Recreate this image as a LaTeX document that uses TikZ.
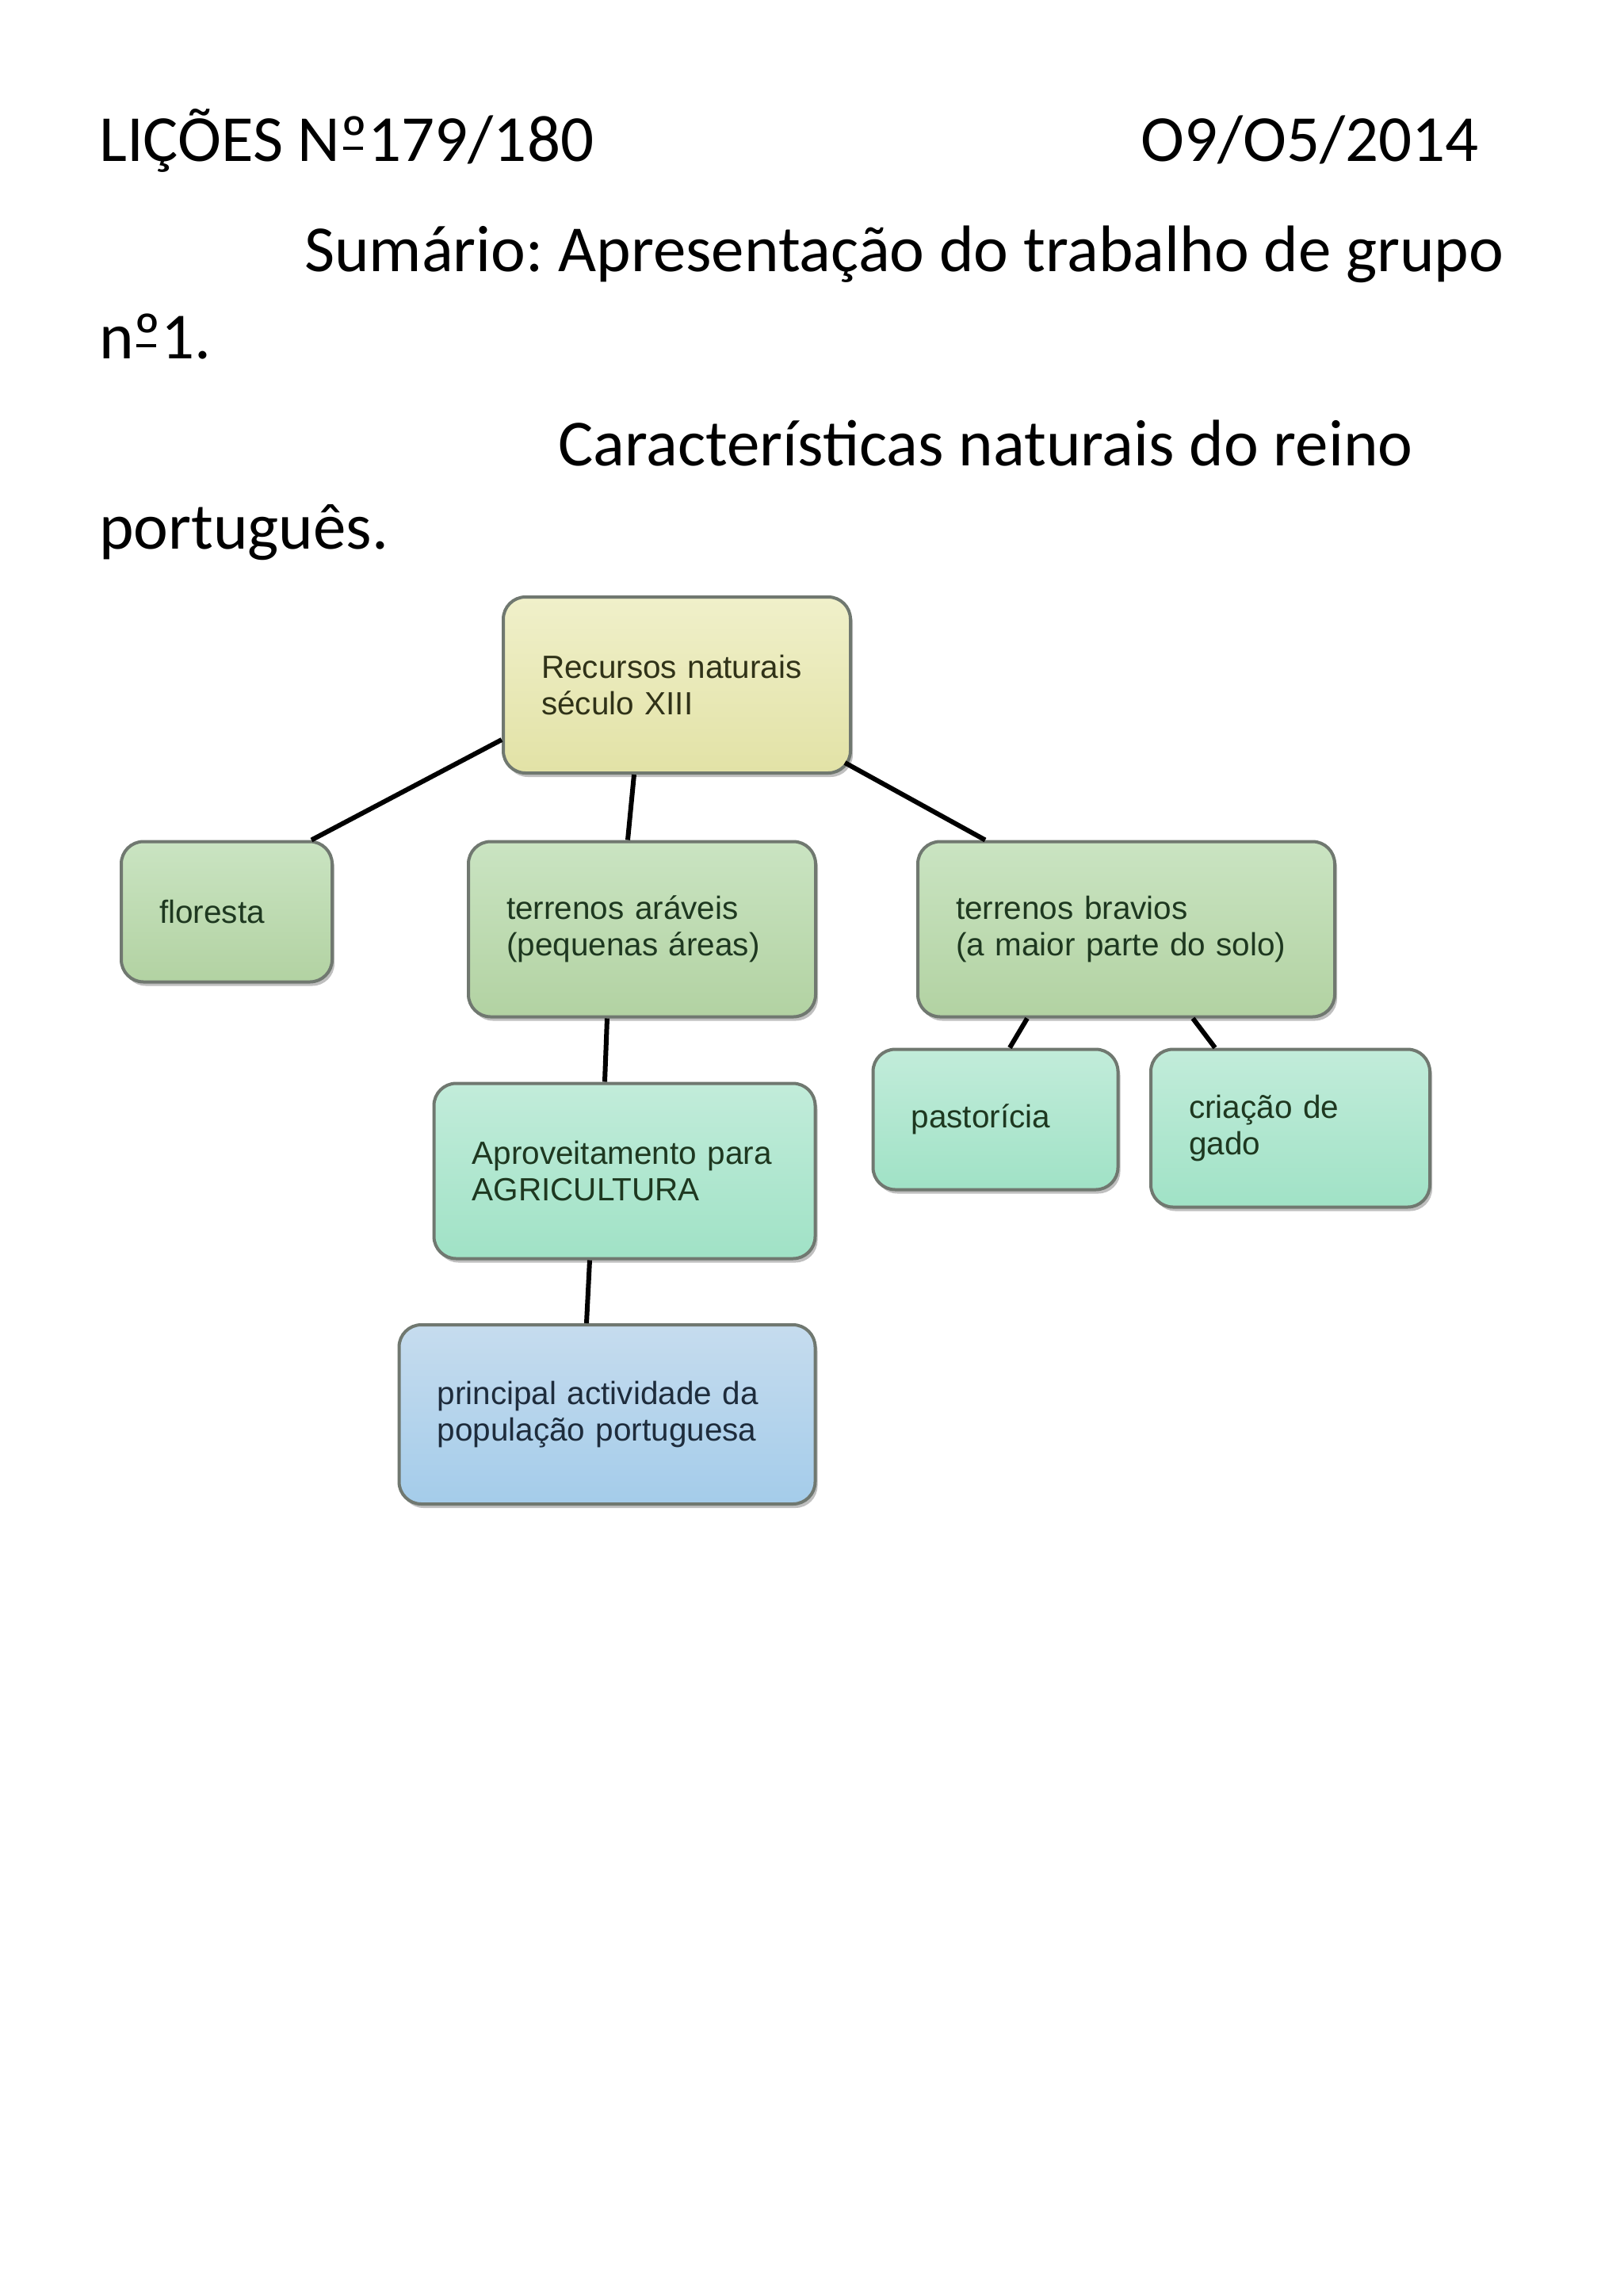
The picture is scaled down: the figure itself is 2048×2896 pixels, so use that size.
\documentclass[tikz,border=0pt]{standalone}
\usepackage{fontspec}
\setmainfont{Carlito}
\newfontfamily\mapfont{Liberation Sans}
\usetikzlibrary{shadows}
\frenchspacing
\definecolor{rootTop}{RGB}{240,240,202}
\definecolor{rootBottom}{RGB}{226,226,166}
\definecolor{sageTop}{RGB}{202,228,194}
\definecolor{sageBottom}{RGB}{178,210,162}
\definecolor{mintTop}{RGB}{194,236,218}
\definecolor{mintBottom}{RGB}{160,226,198}
\definecolor{blueTop}{RGB}{198,220,238}
\definecolor{blueBottom}{RGB}{164,204,234}
\definecolor{boxBorder}{RGB}{112,120,112}
\definecolor{textGreen}{RGB}{30,56,32}
\definecolor{textOlive}{RGB}{48,50,24}
\definecolor{textNavy}{RGB}{30,44,60}
% ordinal com traco, como no original
\newcommand\ordo{\makebox[0pt][l]{\kern0.04em\raisebox{0.17em}{\rule{0.3em}{0.05em}}}º}

\begin{document}
\begin{tikzpicture}[x=1pt,y=-1pt,
    head/.style={anchor=base west, inner sep=0pt, font=\fontsize{83}{100}\selectfont},
    mapbox/.style={draw=boxBorder, line width=4pt, rounded corners=28pt,
      inner xsep=48pt, inner ysep=0pt, align=left,
      font=\mapfont\fontsize{40.5}{46}\selectfont,
      drop shadow={shadow xshift=3pt, shadow yshift=-5pt, opacity=0.25, fill=black}},
    rootbox/.style={mapbox, top color=rootTop, bottom color=rootBottom, text=textOlive},
    sagebox/.style={mapbox, top color=sageTop, bottom color=sageBottom, text=textGreen},
    mintbox/.style={mapbox, top color=mintTop, bottom color=mintBottom, text=textGreen},
    bluebox/.style={mapbox, top color=blueTop, bottom color=blueBottom, text=textNavy},
    link/.style={line width=6pt, black}]
  \useasboundingbox[fill=white] (0,0) rectangle (2048,2896);

  % cabecalho
  \node[head] (licoes) at (125,203) {LIÇÕES N\ordo179/180};
  \node[head] (data) at (1439,203) {O9/O5/2014};
  \node[head] (sumario) at (384,342) {Sumário: Apresentação do trabalho de grupo};
  \node[head] (grupo) at (125,452) {n\ordo1.};
  \node[head] (carac) at (704,587) {Características naturais do reino};
  \node[head] (portug) at (125,692) {português.};

  % mapa de conceitos
  \node[rootbox, text width=342pt, minimum height=222pt] (recursos) at (854,864)
    {Recursos naturais\\século XIII};
  \node[sagebox, text width=170pt, minimum height=177pt] (floresta) at (286,1150)
    {floresta};
  \node[sagebox, text width=342pt, minimum height=221pt] (araveis) at (810,1172)
    {terrenos aráveis\\(pequenas áreas)};
  \node[sagebox, text width=430pt, minimum height=221pt] (bravios) at (1421,1172)
    {terrenos bravios\\(a maior parte do solo)};
  \node[mintbox, text width=213pt, minimum height=177pt] (pastoricia) at (1256,1412)
    {pastorícia};
  \node[mintbox, text width=256pt, minimum height=199pt] (gado) at (1628,1423)
    {criação de\\gado};
  \node[mintbox, text width=385pt, minimum height=221pt] (agricultura) at (788,1477)
    {Aproveitamento para\\AGRICULTURA};
  \node[bluebox, text width=429pt, minimum height=226pt] (actividade) at (766,1784)
    {principal actividade da\\população portuguesa};

  % ligacoes
  \draw[link] ([yshift=-69pt]recursos.west) -- ([xshift=107pt]floresta.north);
  \draw[link] ([xshift=-54pt]recursos.south) -- ([xshift=-18pt]araveis.north);
  \draw[link] ([shift={(-9pt,15pt)}]recursos.south east) -- ([xshift=-178pt]bravios.north);
  \draw[link] ([xshift=-44pt]araveis.south) -- ([xshift=-25pt]agricultura.north);
  \draw[link] ([xshift=-44pt]agricultura.south) -- ([xshift=-26pt]actividade.north);
  \draw[link] ([xshift=-125pt]bravios.south) -- ([xshift=18pt]pastoricia.north);
  \draw[link] ([xshift=84pt]bravios.south) -- ([xshift=-95pt]gado.north);
\end{tikzpicture}
\end{document}
